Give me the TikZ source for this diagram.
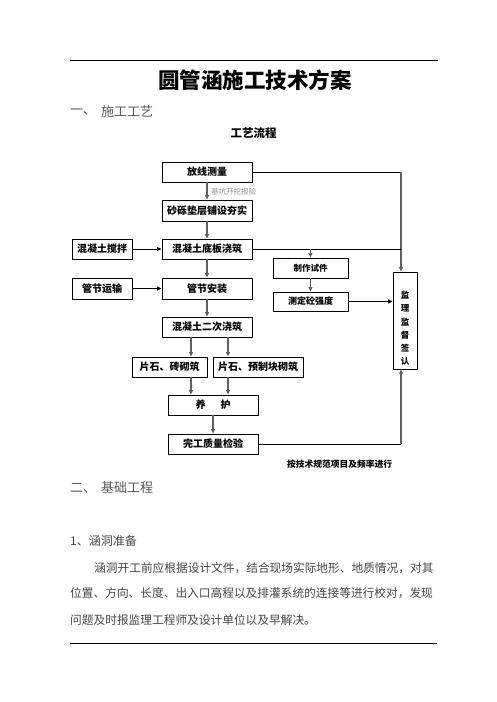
\documentclass[tikz,border=0pt]{standalone}
\usepackage{fontspec}
\setmainfont{Noto Sans CJK SC}
\usetikzlibrary{arrows.meta}
\begin{document}
\begin{tikzpicture}[x=1pt,y=-1pt,
  box/.style={draw=black, line width=0.9pt, minimum height=20pt, inner sep=0pt, font=\fontsize{10}{10}\selectfont\bfseries},
  varr/.style={-{Triangle[length=4.5pt,width=4pt]}, line width=1.1pt, draw=gray!75!black, fill=gray!75!black},
  harr/.style={-{Triangle[length=4.5pt,width=4pt]}, line width=0.9pt, draw=black},
  hl/.style={line width=0.9pt, draw=black},
  body/.style={inner sep=0pt, anchor=west, text=black!72, font=\fontsize{11.7}{11.7}\selectfont},
  head/.style={inner sep=0pt, anchor=west, text=black!65, font=\fontsize{13}{13}\selectfont},
  rule/.style={line width=1pt, draw=black}]
\useasboundingbox (0,0) rectangle (496,702);
\fill[white] (0,0) rectangle (496,702);

% rules
\coordinate (r1a) at (70,60); \coordinate (r1b) at (438,60);
\draw[rule] (r1a) -- (r1b);
\coordinate (r2a) at (70,643); \coordinate (r2b) at (437,643);
\draw[rule] (r2a) -- (r2b);

% title and headings
\node[inner sep=0pt, font=\fontsize{21.5}{21.5}\selectfont\bfseries] (title) at (255,80) {圆管涵施工技术方案};
\node[head] (h1n) at (70,112) {一、};
\node[head] (h1) at (101,112) {施工工艺};
\node[inner sep=0pt, font=\fontsize{11.5}{11.5}\selectfont\bfseries] (flow) at (253.5,133) {工艺流程};

% boxes
\node[box, minimum width=90pt] (fx) at (207,172) {放线测量};
\node[box, minimum width=90pt, minimum height=21pt] (sl) at (207,210.5) {砂砾垫层铺设夯实};
\node[box, minimum width=90pt] (db) at (207,249) {混凝土底板浇筑};
\node[box, minimum width=60pt] (jb) at (102,249) {混凝土搅拌};
\node[box, minimum width=60pt, minimum height=21pt] (ys) at (102,288.5) {管节运输};
\node[box, minimum width=90pt, minimum height=21pt] (az) at (207,288.5) {管节安装};
\node[box, minimum width=90pt] (ec) at (207,327) {混凝土二次浇筑};
\node[box, minimum width=75pt] (zq) at (169.5,367) {片石、砖砌筑};
\node[box, minimum width=90pt] (yz) at (258,367) {片石、预制块砌筑};
\node[box, minimum width=90pt] (yh) at (213,405) {养\hspace{1.5em}护};
\node[box, minimum width=90pt] (wg) at (213,444) {完工质量检验};
\node[box, minimum width=75pt, font=\fontsize{8.5}{8.5}\selectfont\bfseries] (zz) at (310.5,268) {制作试件};
\node[box, minimum width=75pt, minimum height=19pt, font=\fontsize{9}{9}\selectfont\bfseries] (cd) at (310.5,301.5) {测定砼强度};
\node[box, minimum width=24pt, minimum height=97pt] (jl) at (405,320.5) {};
\node[inner sep=0pt, align=center, font=\fontsize{8.5}{13.3}\selectfont\bfseries] (jlt) at (405,328.5) {监\\理\\监\\督\\签\\认};

% connectors
\draw[varr] (fx) -- (sl);
\node[inner sep=0pt, anchor=west, text=gray!85, font=\fontsize{7.5}{7.5}\selectfont] (lb) at (211,192) {基坑开挖报验};
\draw[varr] (sl) -- (db);
\draw[harr] (jb) -- (db);
\draw[varr] (db) -- (az);
\draw[harr] (ys) -- (az);
\draw[varr] (az) -- (ec);
\draw[varr] ([xshift=-16pt]ec.south) -- ([xshift=-16pt]ec.south |- zq.north);
\draw[varr] ([xshift=21pt]ec.south) -- ([xshift=21pt]ec.south |- yz.north);
\draw[varr] ([xshift=21.5pt]zq.south) -- ([xshift=21.5pt]zq.south |- yh.north);
\draw[varr] ([xshift=-30pt]yz.south) -- ([xshift=-30pt]yz.south |- yh.north);
\draw[varr] (yh) -- (wg);

\draw[hl] (fx.east) -- ([xshift=-4pt]jl.north |- fx.east);
\draw[varr] ([xshift=-4pt]jl.north |- fx.east) -- ([xshift=-4pt]jl.north);
\draw[hl] (db.east) -- ([xshift=-4pt]jl.north |- db.east);
\draw[varr] (zz.north |- db.east) -- (zz.north);
\draw[varr] (zz) -- (cd);
\draw[harr] (cd.east) -- (cd.east -| jl.west);
\draw[hl] (wg.east) -- ([xshift=-4pt]jl.south |- wg.east);
\draw[varr] ([xshift=-4pt]jl.south |- wg.east) -- ([xshift=-4pt]jl.south);

\node[inner sep=0pt, anchor=west, font=\fontsize{8.75}{8.75}\selectfont\bfseries] (note) at (287,464) {按技术规范项目及频率进行};

% section two
\node[head] (h2n) at (70,488) {二、};
\node[head] (h2) at (101,488) {基础工程};
\node[body, font=\fontsize{12}{12}\selectfont] (s1) at (70,541) {1、涵洞准备};
\node[body] (p1) at (94,568) {涵洞开工前应根据设计文件，结合现场实际地形、地质情况，对其};
\node[body] (p2) at (70,593) {位置、方向、长度、出入口高程以及排灌系统的连接等进行校对，发现};
\node[body] (p3) at (70,620) {问题及时报监理工程师及设计单位以及早解决。};
\end{tikzpicture}
\end{document}
